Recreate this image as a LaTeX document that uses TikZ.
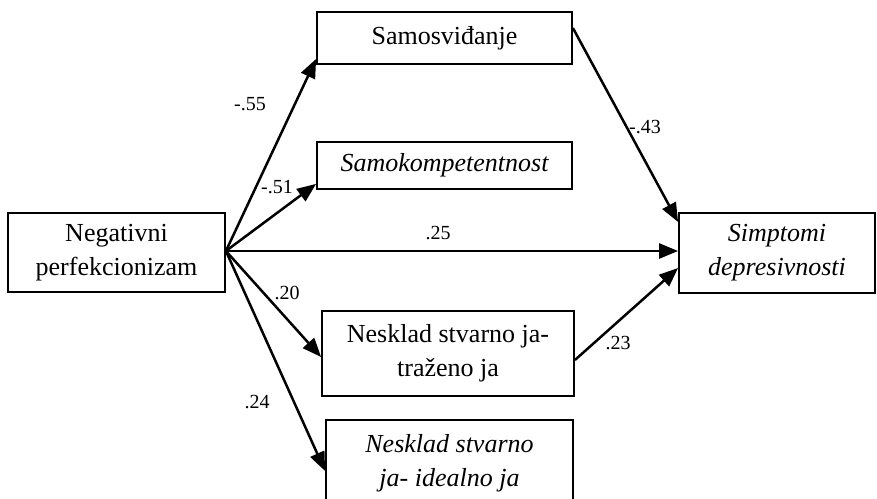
\documentclass[tikz,border=0pt]{standalone}
\usepackage{fontspec}
\setmainfont{Liberation Serif}
\usetikzlibrary{arrows.meta}
\begin{document}
\begin{tikzpicture}[x=1pt,y=-1pt,
  box/.style={draw, line width=1.8pt, inner sep=0pt, align=center,
    font=\fontsize{26}{34}\selectfont},
  arr/.style={line width=2.5pt, -{Triangle[length=19pt,width=15pt]}},
  lab/.style={font=\fontsize{20}{24}\selectfont, inner sep=0pt}]
\useasboundingbox (0,0) rectangle (877,498);
\node[box, minimum width=217pt, minimum height=79pt] (neg) at (116.5,252.5) {Negativni\\perfekcionizam};
\node[box, minimum width=255pt, minimum height=52pt] (sam) at (444.5,38) {Samosviđanje};
\node[box, minimum width=255pt, minimum height=47pt] (samk) at (444.5,165.5) {\itshape Samokompetentnost};
\node[box, minimum width=196pt, minimum height=80pt] (simp) at (777,253) {\itshape Simptomi\\\itshape depresivnosti};
\node[box, minimum width=252pt, minimum height=85pt] (nes1) at (448,353.5) {Nesklad stvarno ja-\\traženo ja};
\node[box, minimum width=247pt, minimum height=86pt] (nes2) at (449.5,463) {\itshape Nesklad stvarno\\\itshape ja- idealno ja};
\coordinate (o) at ([yshift=1.5pt]neg.east);
\draw[arr] (o) -- ([yshift=6pt]sam.south west);
\draw[arr] (o) -- ([yshift=6pt]samk.south west);
\draw[arr] (o) -- ([yshift=2pt]simp.west);
\draw[arr] (o) -- ([yshift=-3.5pt]nes1.west);
\draw[arr] (o) -- ([yshift=-8pt]nes2.west);
\draw[arr] ([yshift=10pt]sam.east) -- ([yshift=31pt]simp.west);
\draw[arr] ([yshift=-6.5pt]nes1.east) -- ([yshift=-15pt]simp.west);
\node[lab] (l1) at (250,104) {-.55};
\node[lab] (l2) at (277,187) {-.51};
\node[lab] (l3) at (438,233) {.25};
\node[lab] (l4) at (287,293) {.20};
\node[lab] (l5) at (257,402) {.24};
\node[lab] (l6) at (618,343) {.23};
\node[lab] (l7) at (645,127) {-.43};
\end{tikzpicture}
\end{document}
